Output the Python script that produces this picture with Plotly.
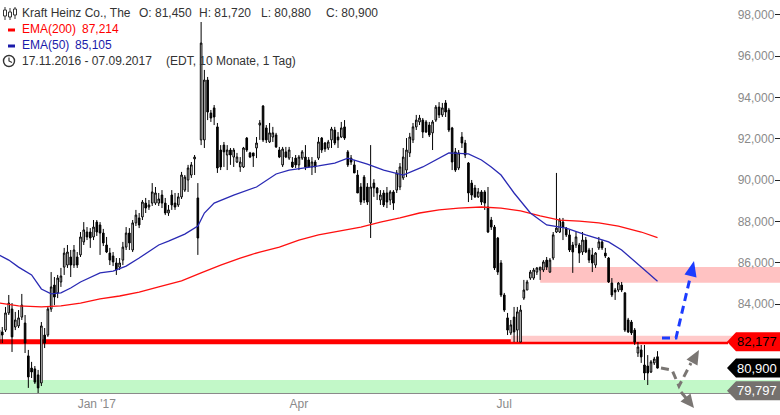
import plotly.graph_objects as go

# ---------------- data ----------------
open_ = [82.11, 82.65, 82.74, 83.57, 83.76, 82.89, 82.94, 83.37, 83.08, 81.49,
         80.90, 80.86, 80.57, 80.18, 82.50, 82.50, 83.76, 84.92, 84.54, 85.07,
         85.79, 85.89, 86.28, 85.89, 86.28, 86.38, 87.01, 87.49, 87.49, 87.25,
         87.97, 87.83, 87.44, 86.86, 86.47, 86.33, 85.99, 85.79, 86.13, 86.76,
         87.44, 86.62, 87.93, 88.17, 88.22, 88.89, 88.70, 88.89, 88.89, 88.89,
         89.28, 88.89, 88.41, 89.28, 88.89, 88.80, 89.19, 89.52, 90.01, 90.25,
         91.03, 89.14, 91.95, 91.95, 94.85, 93.25, 93.50, 92.58, 91.46, 91.70,
         91.22, 91.46, 91.12, 90.88, 90.64, 90.64, 92.04, 91.32, 91.32, 91.56,
         92.67, 93.59, 92.53, 91.85, 92.09, 92.19, 91.46, 90.74, 91.37, 91.07,
         90.88, 91.07, 90.74, 91.07, 91.12, 90.98, 90.64, 90.88, 91.07, 92.04,
         91.80, 91.56, 91.95, 92.43, 92.09, 92.09, 92.58, 91.37, 91.07, 90.74,
         90.25, 89.67, 90.15, 89.67, 87.93, 89.86, 89.62, 89.04, 89.38, 89.38,
         89.04, 89.43, 89.52, 89.67, 90.11, 90.49, 91.32, 91.95, 92.58, 92.82,
         92.91, 92.82, 92.67, 92.29, 92.91, 93.54, 93.16, 93.74, 93.40, 92.53,
         91.37, 90.59, 92.09, 91.80, 90.83, 89.86, 89.62, 89.19, 89.43, 89.43,
         88.70, 88.07, 87.73, 87.20, 85.99, 84.44, 83.33, 82.60, 83.37, 82.74,
         82.16, 84.29, 84.68, 85.26, 85.26, 85.55, 85.65, 85.65, 86.13, 85.55,
         86.23, 87.49, 87.49, 87.97, 87.68, 87.35, 86.86, 86.86, 86.86, 86.52,
         87.10, 86.62, 86.38, 85.89, 86.72, 87.01, 86.47, 86.23, 85.02, 84.68,
         84.68, 84.92, 84.54, 83.23, 83.13, 82.74, 81.63, 81.78, 81.05, 81.00,
         80.71, 81.15, 81.45]

high = [82.84, 82.89, 83.86, 84.44, 84.05, 83.62, 83.71, 84.49, 83.47, 81.78,
        81.20, 81.00, 80.81, 83.13, 82.84, 83.86, 85.55, 85.31, 85.41, 85.75,
        86.72, 86.86, 86.62, 86.86, 86.52, 87.49, 87.97, 87.73, 87.68, 88.07,
        88.07, 87.97, 87.64, 87.25, 86.72, 86.52, 86.23, 86.23, 87.01, 87.73,
        87.68, 88.07, 88.56, 88.41, 89.04, 89.14, 89.04, 89.86, 89.67, 89.38,
        89.52, 89.14, 88.80, 89.52, 89.38, 89.38, 90.40, 90.25, 90.74, 90.88,
        91.22, 89.86, 97.66, 95.34, 95.00, 93.40, 93.64, 92.77, 91.70, 91.85,
        91.70, 91.56, 91.56, 91.32, 91.12, 91.61, 92.09, 91.37, 91.32, 92.09,
        92.91, 93.64, 92.67, 92.77, 92.58, 92.29, 91.61, 91.61, 91.61, 91.61,
        91.12, 91.22, 91.22, 91.46, 91.70, 91.12, 91.12, 90.98, 92.09, 92.09,
        91.85, 91.95, 92.58, 92.58, 92.33, 92.82, 92.91, 91.46, 91.22, 90.98,
        90.49, 89.86, 90.25, 89.86, 91.70, 90.05, 89.67, 89.52, 89.52, 89.67,
        89.52, 89.52, 90.49, 90.83, 91.56, 92.04, 92.29, 92.77, 93.16, 93.16,
        93.01, 92.91, 92.82, 92.91, 93.64, 93.78, 93.74, 93.88, 93.50, 92.58,
        91.56, 91.46, 92.33, 91.95, 90.88, 90.01, 89.77, 89.62, 89.52, 89.52,
        89.67, 88.22, 87.83, 87.25, 86.13, 84.54, 83.57, 83.23, 83.86, 83.86,
        83.95, 85.17, 85.17, 85.65, 85.75, 85.79, 85.79, 86.13, 86.28, 86.23,
        87.49, 90.35, 88.17, 88.17, 87.73, 87.59, 87.01, 87.49, 86.96, 87.49,
        87.25, 86.72, 86.72, 86.52, 87.25, 87.10, 86.72, 86.28, 85.26, 84.78,
        85.07, 85.07, 84.58, 83.33, 83.23, 82.84, 82.16, 82.02, 82.02, 81.53,
        81.29, 81.44, 81.72]

low = [81.53, 82.11, 82.65, 83.47, 81.68, 82.74, 82.84, 83.23, 81.63, 79.94,
       80.42, 80.13, 79.69, 80.03, 81.87, 82.41, 83.62, 83.95, 84.29, 84.83,
       85.41, 85.75, 85.31, 85.75, 85.75, 86.28, 86.86, 87.10, 86.72, 87.10,
       87.30, 86.38, 86.81, 86.47, 85.89, 85.84, 85.41, 85.65, 85.89, 86.62,
       86.62, 86.52, 87.78, 87.68, 88.07, 88.41, 88.56, 88.75, 88.80, 88.75,
       88.65, 88.31, 88.27, 88.56, 88.56, 88.70, 89.09, 89.43, 89.43, 90.11,
       90.25, 86.38, 91.70, 91.56, 92.91, 92.82, 92.67, 90.35, 90.49, 90.64,
       90.49, 90.74, 90.64, 90.83, 90.40, 90.59, 91.37, 91.07, 90.64, 91.07,
       91.95, 91.85, 91.80, 91.80, 91.85, 91.56, 91.07, 90.64, 91.07, 90.98,
       90.59, 90.59, 90.49, 90.98, 90.49, 90.59, 90.25, 90.35, 90.98, 91.32,
       91.37, 91.46, 91.56, 91.70, 91.56, 92.04, 91.95, 90.64, 90.74, 90.35,
       89.38, 88.80, 88.89, 88.80, 87.20, 89.19, 89.04, 88.80, 88.70, 88.65,
       88.80, 88.56, 89.38, 89.52, 90.01, 90.15, 91.12, 91.80, 92.43, 92.67,
       92.04, 92.29, 92.09, 91.46, 92.82, 93.01, 93.06, 93.06, 92.33, 90.49,
       90.40, 90.49, 91.56, 91.07, 88.94, 89.04, 89.14, 89.14, 88.80, 88.56,
       87.44, 87.59, 85.65, 85.41, 84.34, 83.62, 82.50, 82.50, 82.16, 82.16,
       82.16, 84.20, 84.68, 85.17, 85.17, 85.41, 85.17, 85.55, 85.65, 85.51,
       86.13, 87.44, 87.44, 87.10, 87.25, 86.52, 85.51, 86.72, 85.99, 86.38,
       86.47, 85.99, 85.55, 85.75, 86.62, 86.62, 86.23, 85.02, 84.34, 84.20,
       84.58, 84.58, 82.65, 82.60, 82.50, 82.02, 81.44, 81.15, 80.32, 80.08,
       80.66, 81.05, 80.88]

close = [82.74, 82.50, 83.57, 84.05, 82.41, 83.23, 83.33, 83.95, 82.11, 80.47,
         80.71, 80.22, 79.94, 82.94, 82.11, 83.76, 84.83, 84.34, 85.26, 85.36,
         86.47, 86.52, 85.89, 86.62, 85.89, 87.25, 87.59, 87.25, 87.20, 87.73,
         87.49, 87.44, 86.96, 86.52, 86.13, 86.04, 85.65, 85.99, 86.76, 87.44,
         86.96, 87.93, 88.31, 87.83, 88.94, 88.65, 88.80, 89.43, 89.38, 89.09,
         88.89, 88.41, 88.56, 88.80, 88.70, 89.19, 90.25, 90.15, 90.59, 90.74,
         91.12, 87.20, 96.64, 94.85, 93.30, 93.01, 93.06, 90.59, 90.64, 91.37,
         91.46, 91.22, 91.46, 91.12, 90.88, 91.56, 91.46, 91.12, 91.17, 91.80,
         92.77, 91.95, 91.95, 92.29, 92.29, 91.61, 91.12, 91.51, 91.12, 91.46,
         90.64, 90.74, 91.12, 91.37, 90.64, 90.64, 90.88, 90.64, 91.85, 91.46,
         91.51, 91.85, 92.48, 91.80, 91.95, 92.53, 92.04, 90.74, 90.88, 90.35,
         89.38, 88.94, 89.04, 88.94, 89.67, 89.62, 89.38, 89.28, 88.80, 88.94,
         89.43, 88.89, 90.35, 90.64, 91.12, 91.46, 92.09, 92.58, 92.91, 93.01,
         92.33, 92.33, 92.19, 92.82, 93.54, 93.16, 93.50, 93.30, 92.43, 90.88,
         90.49, 91.32, 91.80, 91.22, 89.38, 89.28, 89.19, 89.43, 88.94, 88.89,
         87.49, 87.73, 85.75, 85.55, 84.44, 83.71, 82.74, 82.99, 82.65, 83.62,
         83.71, 84.68, 85.07, 85.55, 85.65, 85.75, 85.79, 86.04, 85.79, 86.13,
         87.35, 87.68, 88.07, 87.73, 87.35, 86.62, 86.52, 87.25, 86.47, 87.10,
         86.52, 86.13, 85.99, 86.47, 87.01, 86.72, 86.33, 85.07, 84.44, 84.58,
         85.02, 84.68, 82.74, 82.65, 82.60, 82.16, 81.92, 81.44, 80.66, 80.66,
         81.20, 81.34, 80.90]

# trading-day index of first session of Jan / Apr / Jul 2017
tick_pos = [30, 92, 155]
tick_labels = ["Jan '17", "Apr", "Jul"]
price_ticks = [84, 86, 88, 90, 92, 94, 96, 98]

ema200_idx = [0, 6, 13, 19, 25, 31, 37, 43, 49, 56, 62, 68, 74, 80, 86, 92, 98,
              105, 111, 117, 123, 129, 135, 141, 148, 154, 160, 166, 172, 178,
              184, 190, 197, 202]
ema200_val = [84.05, 83.91, 83.86, 83.91, 84.05, 84.25, 84.39, 84.58, 84.83,
              85.12, 85.51, 85.89, 86.23, 86.52, 86.76, 87.10, 87.35, 87.54,
              87.73, 87.97, 88.17, 88.41, 88.56, 88.65, 88.70, 88.65, 88.51,
              88.27, 88.07, 88.02, 87.93, 87.78, 87.49, 87.214]

ema50_idx = [0, 3, 6, 10, 13, 16, 19, 22, 25, 28, 31, 35, 39, 43, 49, 52, 57,
             61, 63, 66, 72, 79, 85, 89, 94, 98, 103, 107, 113, 118, 124, 130,
             138, 144, 148, 151, 154, 158, 163, 168, 174, 180, 187, 191, 197, 202]
ema50_val = [86.38, 86.13, 85.79, 85.41, 84.73, 84.49, 84.54, 84.78, 85.07,
             85.31, 85.51, 85.60, 85.84, 86.23, 86.86, 87.05, 87.39, 87.78,
             88.41, 88.89, 89.28, 89.67, 90.30, 90.49, 90.59, 90.69, 90.83,
             91.07, 90.78, 90.49, 90.25, 90.64, 91.32, 91.27, 90.98, 90.64,
             90.25, 89.38, 88.41, 87.83, 87.68, 87.35, 87.01, 86.62, 85.79,
             85.105]

red_level = 82.177
green_level = 79.797
resist_zone = [85.03, 85.80]
resist_zone_start = 166
red_zone_top = 82.46
red_zone_start = 157
green_zone_top = 80.32

# ---------------- figure ----------------
W, H = 780, 415
MB = 22
PH = H - MB
Y_TOP, Y_BOT = 98.726, 79.693
X_LO = 0.31
X_HI = X_LO + W / 3.26
FONT = "Liberation Sans, Arial, sans-serif"


def de(v):
    return f"{v:.3f}".replace(".", ",")


def px(x):
    return x / W


def py(y):
    return (PH - y) / PH


def price_to_py(v):
    return (Y_TOP - v) / (Y_TOP - Y_BOT) * PH


day_idx = list(range(len(close)))

fig = go.Figure()
fig.add_trace(go.Candlestick(
    x=day_idx, open=open_, high=high, low=low, close=close,
    increasing=dict(line=dict(color="black", width=1), fillcolor="white"),
    decreasing=dict(line=dict(color="black", width=1), fillcolor="black"),
    whiskerwidth=0, showlegend=False, hoverinfo="skip"))
fig.add_trace(go.Scatter(x=ema200_idx, y=ema200_val, mode="lines",
                         line=dict(color="#ff1010", width=1.3),
                         showlegend=False, hoverinfo="skip"))
fig.add_trace(go.Scatter(x=ema50_idx, y=ema50_val, mode="lines",
                         line=dict(color="#2a2ab4", width=1.3),
                         showlegend=False, hoverinfo="skip"))

shapes = []
# zones
shapes.append(dict(type="rect", xref="paper", yref="y", x0=0, x1=1,
                   y0=Y_BOT - 1, y1=green_zone_top, fillcolor="#c2f8c8",
                   line=dict(width=0), layer="below"))
shapes.append(dict(type="rect", xref="x", yref="y", x0=resist_zone_start,
                   x1=X_HI + 5, y0=resist_zone[0], y1=resist_zone[1],
                   fillcolor="#ffc2c2", line=dict(width=0), layer="below"))
shapes.append(dict(type="rect", xref="x", yref="y", x0=red_zone_start,
                   x1=X_HI + 5, y0=red_level, y1=red_zone_top,
                   fillcolor="#ffcaca", line=dict(width=0), layer="below"))
shapes.append(dict(type="line", xref="paper", yref="y", x0=0, x1=px(728),
                   y0=red_level, y1=red_level,
                   line=dict(color="#ff0000", width=5), layer="below"))


def tag(value, fill):
    yc = price_to_py(value)
    t, b = yc - 9.5, yc + 9.5
    path = (f"M {px(727)},{py(yc)} L {px(736)},{py(t)} L {px(780)},{py(t)} "
            f"L {px(780)},{py(b)} L {px(736)},{py(b)} Z")
    return dict(type="path", xref="paper", yref="paper", path=path,
                fillcolor=fill, line=dict(width=0))


shapes.append(tag(red_level, "#ff0000"))
shapes.append(tag(close[-1], "#000000"))
shapes.append(tag(green_level, "#75716e"))


def poly(points, color, dash=None, fill=None, width=3):
    d = "M " + " L ".join(f"{px(a)},{py(b)}" for a, b in points)
    if fill:
        d += " Z"
        return dict(type="path", xref="paper", yref="paper", path=d,
                    fillcolor=fill, line=dict(width=0))
    return dict(type="path", xref="paper", yref="paper", path=d,
                line=dict(color=color, width=width, dash=dash))


BLUE = "#1c3cff"
GRAY = "#7a7673"
shapes.append(poly([(662, 338), (676, 338), (690.5, 276)], BLUE, "8px,5px"))
shapes.append(poly([(694, 261), (696.5, 277.5), (684.5, 274.5)], None, fill=BLUE))
shapes.append(poly([(661, 368), (672, 370), (679, 386), (691, 363)], GRAY, "8px,5px"))
shapes.append(poly([(699, 350), (697.5, 365.5), (686.5, 359.5)], None, fill=GRAY))
shapes.append(poly([(681, 392), (686, 398)], GRAY))
shapes.append(poly([(694, 408), (690.5, 393.5), (680.5, 401.5)], None, fill=GRAY))

# legend icons
shapes.append(dict(type="line", xref="paper", yref="paper", x0=px(8), x1=px(15),
                   y0=py(30), y1=py(30), line=dict(color="#ff0000", width=3)))
shapes.append(dict(type="line", xref="paper", yref="paper", x0=px(8), x1=px(15),
                   y0=py(46), y1=py(46), line=dict(color="#1a1aaa", width=3)))
for cx, top, bot, bt, bb in [(5, 7, 20, 10, 16), (10, 8, 20, 12, 17), (15, 7, 19, 9, 15)]:
    shapes.append(dict(type="line", xref="paper", yref="paper", x0=px(cx), x1=px(cx),
                       y0=py(top), y1=py(bot), line=dict(color="#333", width=1)))
    shapes.append(dict(type="rect", xref="paper", yref="paper", x0=px(cx - 1.5),
                       x1=px(cx + 1.5), y0=py(bt), y1=py(bb), fillcolor="white",
                       line=dict(color="#333", width=1)))
shapes.append(dict(type="circle", xref="paper", yref="paper", x0=px(3.5), x1=px(14.5),
                   y0=py(55.5), y1=py(66.5), line=dict(color="#333", width=1.4)))
shapes.append(dict(type="path", xref="paper", yref="paper",
                   path=f"M {px(9)},{py(57.5)} L {px(9)},{py(61)} L {px(12)},{py(62.5)}",
                   line=dict(color="#333", width=1.2)))

ann = []


def text(x, y, s, color="#333333", size=12, xanchor="left"):
    ann.append(dict(xref="paper", yref="paper", x=px(x), y=py(y), text=s,
                    showarrow=False, xanchor=xanchor, yanchor="middle",
                    font=dict(family=FONT, size=size, color=color),
                    borderpad=0, borderwidth=0))


text(22, 13, "Kraft Heinz Co., The")
text(139, 13, "O: " + de(open_[-1]))
text(199, 13, "H: " + de(high[-1]))
text(261, 13, "L: " + de(low[-1]))
text(326, 13, "C: " + de(close[-1]))
text(22, 29, "EMA(200)", "#ff0000")
text(82, 29, de(ema200_val[-1]), "#ff0000")
text(22, 45, "EMA(50)", "#1a1aaa")
text(75, 45, de(ema50_val[-1]), "#1a1aaa")
text(22, 61, "17.11.2016 - 07.09.2017")
text(166, 61, "(EDT, 10 Monate, 1 Tag)")

text(757, price_to_py(red_level), de(red_level), "#000000", 13, "center")
text(757, price_to_py(close[-1]), de(close[-1]), "#ffffff", 13, "center")
text(757, price_to_py(green_level), de(green_level), "#ffffff", 13, "center")

fig.update_layout(
    width=W, height=H,
    margin=dict(l=0, r=0, t=0, b=MB),
    paper_bgcolor="white", plot_bgcolor="white",
    separators=",.",
    font=dict(family=FONT, size=12, color="#333"),
    shapes=shapes, annotations=ann,
    showlegend=False,
    xaxis=dict(range=[X_LO, X_HI], showgrid=False, zeroline=False,
               showline=True, linecolor="#8a8a8a", linewidth=1,
               tickvals=tick_pos, ticktext=tick_labels, ticks="",
               tickfont=dict(family=FONT, size=12, color="#8a8a8a"),
               rangeslider=dict(visible=False), fixedrange=True),
    yaxis=dict(range=[Y_BOT, Y_TOP], side="right", showgrid=False,
               zeroline=False, showline=False, tickvals=price_ticks,
               tickformat=".3f", ticklabelposition="inside", ticks="inside",
               ticklen=5, tickcolor="#222", tickwidth=1,
               tickfont=dict(family=FONT, size=12, color="#8a8a8a"),
               fixedrange=True),
)

fig.write_html("out.html", config={"displayModeBar": False},
               post_script="document.body.style.margin='0';document.body.style.overflow='hidden';")
